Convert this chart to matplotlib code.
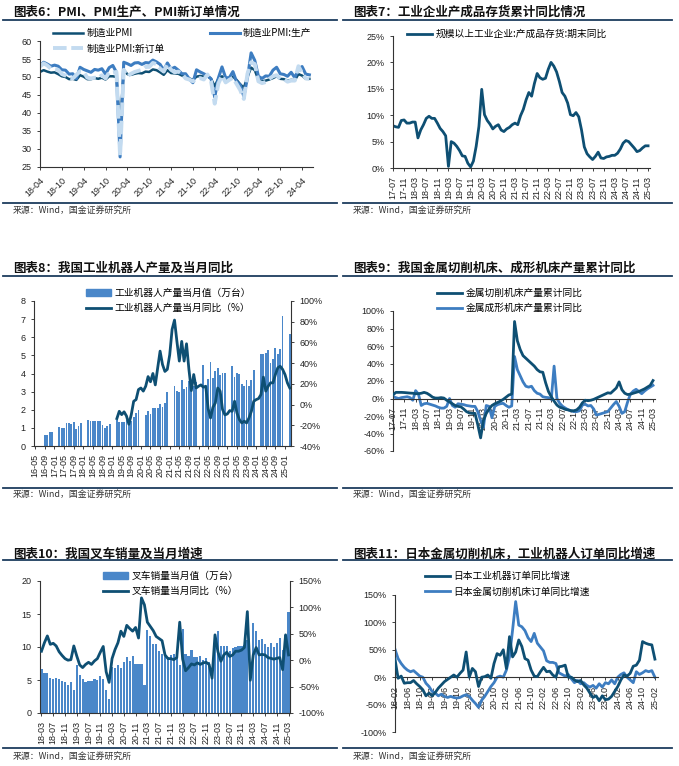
import matplotlib
matplotlib.use('Agg')
import matplotlib.pyplot as plt
import matplotlib.patches as mpatches
from matplotlib.lines import Line2D
from matplotlib.ticker import FuncFormatter
import numpy as np

plt.rcParams['font.family'] = ['Liberation Sans', 'Noto Sans CJK SC']

W, H = 679, 766
DARK = '#0E4F73'
MID = '#3D7DC1'
LIGHT = '#C3DBF0'
BAR = '#4A87C9'
RULE = '#1C3D5E'
CJK = ['Noto Sans CJK SC', 'DejaVu Sans']
SOURCE = '来源：Wind，国金证券研究所'

# ---- 图表6: PMI (monthly from 18-04)
pmi_start = '18-04'
pmi_ticks = ['18-04', '18-10', '19-04', '19-10', '20-04', '20-10', '21-04',
             '21-10', '22-04', '22-10', '23-04', '23-10', '24-04']
pmi = [51.4, 51.9, 51.5, 51.2, 51.3, 50.8, 50.2, 50.0, 49.4,
       49.5, 49.2, 50.5, 50.1, 49.4, 49.4, 49.7, 49.5, 49.8, 49.3, 50.2, 50.2,
       50.0, 35.7, 52.0, 50.8, 50.6, 50.9, 51.1, 51.0, 51.5, 51.4, 52.1, 51.9,
       51.3, 50.6, 51.9, 51.1, 51.0, 50.9, 50.4, 50.1, 49.6, 49.2, 50.1, 50.3,
       50.1, 50.2, 49.5, 47.4, 49.6, 50.2, 49.0, 49.4, 50.1, 49.2, 48.0, 47.0,
       50.1, 52.6, 51.9, 49.2, 48.8, 49.0, 49.3, 49.7, 50.2, 49.5, 49.4, 49.0,
       49.2, 49.1, 50.8, 50.4, 49.5, 49.5]
pmi_prod = [53.1, 54.1, 53.6, 53.0, 53.3, 53.0, 52.0, 51.9, 50.8,
            50.9, 49.5, 52.7, 52.1, 51.7, 51.3, 52.1, 51.9, 52.3, 50.8, 52.6, 53.2,
            51.3, 27.8, 54.1, 53.7, 53.2, 53.9, 54.0, 53.5, 54.0, 53.9, 54.7, 54.2,
            53.5, 51.9, 53.9, 52.2, 52.7, 51.9, 50.9, 50.9, 49.5, 48.4, 52.0, 51.4,
            50.9, 50.4, 49.5, 44.4, 49.7, 52.8, 49.8, 49.8, 51.5, 48.7, 47.8, 44.6,
            49.8, 56.7, 54.6, 50.2, 49.6, 50.3, 50.2, 51.9, 52.7, 50.9, 50.7, 50.2,
            51.3, 49.8, 52.2, 52.9, 50.8, 50.6]
pmi_new = [52.9, 53.8, 53.2, 52.3, 52.2, 52.0, 50.8, 50.4, 49.7,
           49.6, 50.6, 51.6, 51.4, 49.8, 49.6, 49.8, 49.7, 50.5, 49.6, 51.3, 51.2,
           51.4, 28.0, 52.0, 50.2, 50.9, 51.4, 51.7, 52.0, 52.8, 52.8, 53.9, 53.6,
           52.3, 51.5, 53.6, 52.0, 51.3, 51.5, 50.9, 49.6, 49.3, 48.8, 49.4, 49.7,
           49.3, 50.7, 48.8, 42.6, 48.2, 50.4, 48.5, 49.2, 49.8, 48.1, 46.4, 43.9,
           50.9, 54.1, 53.6, 48.8, 48.3, 48.6, 49.5, 50.2, 50.5, 49.5, 49.4, 48.7,
           49.0, 49.0, 53.0, 51.1, 49.6, 49.5]

# ---- 图表7: 产成品存货同比 (monthly from 17-07)
inv_start = '17-07'
m4_ticks = ['17-07', '17-11', '18-03', '18-07', '18-11', '19-03', '19-07', '19-11',
            '20-03', '20-07', '20-11', '21-03', '21-07', '21-11', '22-03', '22-07',
            '22-11', '23-03', '23-07', '23-11', '24-03', '24-07', '24-11', '25-03']
inventory = [8.0, 7.8, 7.7, 9.0, 9.1, 8.5, 8.5, 8.7, 8.7, 5.7, 7.2, 8.2, 9.4, 9.8,
             9.4, 9.4, 8.5, 7.5, 6.9, 6.1, 0.3, 5.0, 4.7, 4.1, 3.3, 2.3, 2.2, 0.9,
             0.2, 1.3, 4.1, 7.9, 14.9, 10.1, 9.0, 8.3, 7.4, 7.9, 8.2, 7.2, 6.9, 7.4,
             7.7, 8.2, 8.5, 8.2, 9.9, 11.1, 12.9, 14.3, 13.6, 16.0, 17.9, 17.1, 16.8,
             17.0, 18.7, 20.0, 19.3, 18.2, 16.4, 14.3, 13.6, 12.3, 10.1, 9.9, 10.5,
             9.7, 7.2, 4.0, 2.7, 2.1, 1.6, 2.2, 3.0, 1.9, 1.8, 2.1, 2.2, 2.4, 2.4,
             2.8, 3.6, 4.7, 5.2, 5.0, 4.4, 3.8, 3.1, 3.3, 3.8, 4.2, 4.2]

# ---- 图表8: 工业机器人 (axis from 16-05)
robot_start = '16-05'
robot_ticks = ['16-05', '16-09', '17-01', '17-05', '17-09', '18-01', '18-05', '18-09',
               '19-01', '19-05', '19-09', '20-01', '20-05', '20-09', '21-01', '21-05',
               '21-09', '22-01', '22-05', '22-09', '23-01', '23-05', '23-09', '24-01',
               '24-05', '24-09', '25-01']
robot_bar_months = (['16-09', '16-10', '16-11', '16-12']
                    + [f'{y}-{m:02d}' for y in range(17, 25) for m in range(3, 13)]
                    + ['25-03'])
robot_output = [0.58, 0.6, 0.75, 0.8,
                1.05, 1.0, 1.0, 1.25, 1.25, 1.2, 1.3, 0.95, 1.12, 1.27,
                1.42, 1.38, 1.37, 1.37, 1.38, 1.4, 1.15, 0.98, 1.1, 1.22,
                1.45, 1.3, 1.33, 1.35, 1.42, 1.5, 1.4, 1.6, 1.8, 2.0,
                1.73, 1.93, 1.78, 2.08, 2.12, 2.1, 2.3, 2.17, 2.35, 2.98,
                3.3, 3.05, 3.0, 3.65, 3.15, 3.25, 3.6, 3.1, 3.3, 3.55,
                4.45, 3.25, 3.7, 4.62, 3.75, 4.15, 4.3, 3.92, 4.02, 4.05,
                4.4, 3.82, 4.02, 4.0, 3.42, 3.33, 3.62, 3.32, 3.62, 4.2,
                5.08, 5.05, 5.15, 5.32, 4.58, 4.8, 5.42, 5.1, 5.35, 7.15,
                6.2]
robot_yoy_start = '19-03'
robot_yoy = [-13.5, -6.5, -9.7, -7, -11, -19, -9.7, 3.2, 4.8, 14.5,
             16, 13, 17.7, 27, 22, 30, 19, 35.5, 51.6, 38.7,
             32, 34, 48, 72.6, 81.6, 61, 42, 61, 42, 58.7,
             34, 13.5, 29, 16, 17.7, 19, 16.8, 17.7, -3.9, -12.9,
             -2.6, 1.6, 16, 13, -4.8, -10, -9, -5.8, -6.5, 3.2,
             -8, -14.5, -17.7, -16, -17.7, -13, -6.5, 3.2, 4.8, 5.8,
             9.7, 26.5, 13, 17.7, 21, 21, 29, 35.5, 37, 34,
             29, 21, 16]

# ---- 图表9: 机床产量累计同比 (monthly from 17-07)
tool_start = '17-07'
cutting = [4, 7, 7, 7, 6.8, 6.5, 6.2, 6, 5.5, 5.5,
           6, 7, 6, 4, 1.5, 0.5, 0.5, 1, 0.5, -2,
           -4, -6, -8, -9, -9.5, -12, -15, -16.5, -17, -17,
           -30, -45, -25, -17, -12, -8, -6, -4.5, -3, -1,
           1.5, 4, 5, 88, 66, 56, 49, 46, 43, 40,
           37, 33, 30.5, 30, 18, 8, 2, -3, -7.5, -10,
           -11, -12.5, -13, -14, -14, -13, -10, -5, -2, -2.5,
           -2, -1, 0.5, 2, 3.5, 5, 6.5, 6, 9, 12,
           19, 10, 6, 4.5, 5, 6, 7, 8, 9.5, 11,
           13, 15, 20.5]
forming = [2, 1, 0, 1, 1.5, 2, 1, -2, 9, 5,
           -8, -6, -5.5, -6.5, -7.5, -8.5, -10, -11, -11, -9,
           0, -8, -10, -6, -6.5, -7, -8, -8.5, -9, -9,
           -15, -25, -33, -8, -9, -22, -9, -7, -6, -5.5,
           -8, -10, -8.5, 48, 33, 26, 19, 14, 13, 14,
           9, 6, 5, 2, 1.3, 1, -1, 37, 0, -5.5,
           -9, -11, -13, -14, -15, -15, -14, -7.5, -6.5, -8.5,
           -8, -12, -19, -18, -17, -16, -15, -11, -7, -3.5,
           -9, -17, -15, -4, 5, 8.5, 10.5, 8, 5.5, 8.5,
           11, 13, 15]

# ---- 图表10: 叉车销量 (monthly from 18-03)
fork_start = '18-03'
fork_ticks = ['18-03', '18-07', '18-11', '19-03', '19-07', '19-11', '20-03', '20-07',
              '20-11', '21-03', '21-07', '21-11', '22-03', '22-07', '22-11', '23-03',
              '23-07', '23-11', '24-03', '24-07', '24-11', '25-03']
fork_sales = [6.6, 6.0, 6.0, 5.25, 5.15, 5.25, 5.15, 4.85, 4.75, 4.25,
              4.65, 3.5, 7.3, 5.75, 5.1, 4.75, 4.8, 4.8, 5.1, 5.05, 5.6, 5.2,
              3.5, 2.07, 7.0, 6.77, 7.27, 6.77, 7.67, 8.48, 7.93, 8.7, 7.5, 7.5,
              7.5, 4.25, 12.6, 11.6, 10.4, 10.4, 9.45, 9.0, 8.9, 8.5, 8.8, 8.9,
              8.4, 7.3, 12.7, 9.0, 8.65, 9.55, 8.55, 8.55, 8.7, 8.05, 8.3, 7.8,
              6.8, 11.8, 12.4, 10.1, 10.1, 10.15, 9.4, 9.8, 10.0, 10.1, 10.1, 10.3,
              11.0, 7.5, 13.7, 12.4, 11.0, 11.15, 10.4, 10.05, 10.65, 10.05, 10.65, 11.3,
              9.55, 11.8, 15.25]
fork_yoy = [17, 33, 46, 30, 32, 27, 16, 9, 3, 0,
            1, 27, 8, -9, -14, -8, -4, -8, -1.5, 3, 15, 26,
            -22, -42, 3, 20, 33, 55, 45, 66, 60, 55, 62, 42,
            118, 105, 72, 64, 56, 45, 41, 37, 10, 3, 3, 1,
            5, 72, 2, -20, -14, -7, -9, -5, -8, -5, -4, -8,
            -34, 48, 16, -2, 10, 15, 7, 10, 17, 17, 19, 24,
            92, -38, 10, 24, 10, 11, 10, 5, 3.5, 2, 3.5, 5,
            -18, 48, 10]

# ---- 图表11: 日本订单同比 (monthly from 18-02)
jp_start = '18-02'
jp_ticks = ['18-02', '18-06', '18-10', '19-02', '19-06', '19-10', '20-02', '20-06',
            '20-10', '21-02', '21-06', '21-10', '22-02', '22-06', '22-10', '23-02',
            '23-06', '23-10', '24-02', '24-06', '24-10', '25-02']
jp_robot = [33, -2, 2, -11, -10, -10, -6, -12, -17, -23,
            -34, -29, -34, -28, -20, -14, -8, -4, 0, 4,
            0, 7, 13, 46, 0, 16, 10, -17, 0, 1,
            4, -2, 25, 43, 40, 50, 16, 74, 37, 46,
            68, 56, 34, 31, 13, 2, 1, 10, 18, 10,
            11, 4, 0, 19, 20, 22, 0, 0, -5, -8,
            -6, -14, -20, -29, -37, -34, -43, -34, -41, -40,
            -35, -26, -17, -5, 4, 2, 7, 20, 22, 31,
            65, 62, 60, 59, 33]
jp_tool = [51, 34, 25, 18, 13, 10, 12, 7, 2, 0,
           -11, -17, -26, -29, -34, -31, -35, -37, -35, -37,
           -38, -37, -34, -32, -35, -42, -48, -55, -42, -35,
           -26, -17, -10, 0, 2, 0, 13, 37, 86, 138,
           95, 92, 85, 72, 65, 80, 62, 55, 48, 30,
           27, 27, 25, 8, 5, 2, 5, -3, -10, -6,
           -12, -10, -15, -18, -15, -20, -12, -18, -10, -12,
           -5, -12, 0, 5, 8, 0, -5, -10, 10, 5,
           8, 12, 10, 12, 0]


def midx(label, start):
    y, m = map(int, label.split('-'))
    y0, m0 = map(int, start.split('-'))
    return (y - y0) * 12 + (m - m0)


pct = FuncFormatter(lambda v, p: f'{v:.0f}%')

fig = plt.figure(figsize=(W / 100, H / 100), dpi=100)


def make_ax(x0, y0, x1, y1):
    ax = fig.add_axes([x0 / W, 1 - y1 / H, (x1 - x0) / W, (y1 - y0) / H])
    for s in ['top', 'right']:
        ax.spines[s].set_visible(False)
    for s in ['left', 'bottom']:
        ax.spines[s].set_color('#333333')
        ax.spines[s].set_linewidth(0.8)
    ax.tick_params(labelsize=6.5, colors='#222222', length=2.5, width=0.6)
    ax.set_facecolor('none')
    return ax


def right_axis(ax):
    ax2 = ax.twinx()
    for s in ['top', 'left', 'bottom']:
        ax2.spines[s].set_visible(False)
    ax2.spines['right'].set_color('#333333')
    ax2.spines['right'].set_linewidth(0.8)
    ax2.tick_params(labelsize=6.5, colors='#222222', length=2.5, width=0.6)
    ax2.yaxis.set_major_formatter(pct)
    return ax2


def frame(x0, x1, y_title, y_top, y_bot, y_src, title):
    fig.text((x0 + 10) / W, 1 - y_title / H, title, fontsize=9,
             fontweight='bold', family=CJK, va='center', color='#111111')
    for yy in (y_top, y_bot):
        fig.add_artist(Line2D([x0 / W, x1 / W], [1 - yy / H] * 2, color=RULE, lw=1.3))
    fig.text((x0 + 10) / W, 1 - y_src / H, SOURCE, fontsize=6.4,
             family=CJK, va='center', color='#333333')


def legend(ax, handles, labels, x, y, ncol=1, colsp=2.0, hl=2.6):
    ax.legend(handles, labels, loc='upper left', bbox_to_anchor=(x / W, 1 - y / H),
              bbox_transform=fig.transFigure, frameon=False, ncol=ncol,
              prop={'family': CJK, 'size': 7}, handlelength=hl, handletextpad=0.35,
              labelspacing=0.55, borderpad=0, borderaxespad=0, columnspacing=colsp)


def month_axis(ax, ticks, start, rot=90):
    ax.set_xticks([midx(t, start) for t in ticks])
    if rot == 90:
        ax.set_xticklabels(ticks, rotation=90)
    else:
        ax.set_xticklabels(ticks, rotation=rot, ha='right', rotation_mode='anchor')


# frames
frame(3, 337, 12, 20, 203, 210, '图表6：PMI、PMI生产、PMI新订单情况')
frame(343, 672, 12, 20, 203, 210, '图表7：工业企业产成品存货累计同比情况')
frame(3, 337, 268, 276, 488, 494, '图表8：我国工业机器人产量及当月同比')
frame(343, 672, 268, 276, 488, 494, '图表9：我国金属切削机床、成形机床产量累计同比')
frame(3, 337, 554, 560, 748, 756, '图表10：我国叉车销量及当月增速')
frame(343, 672, 554, 560, 748, 756, '图表11：日本金属切削机床，工业机器人订单同比增速')

# ---- panel 6
ax = make_ax(40, 41, 313, 167)
x = np.arange(len(pmi))
l1, = ax.plot(x, pmi, color=DARK, lw=1.8)
l2, = ax.plot(x, pmi_prod, color=MID, lw=2.2)
l3, = ax.plot(x, pmi_new, color=LIGHT, lw=2.8, dashes=(3.5, 1.2))
ax.set_ylim(25, 60)
ax.set_yticks(range(25, 61, 5))
ax.set_xlim(0, 75)
month_axis(ax, pmi_ticks, pmi_start, rot=45)
legend(ax, [l1, l3, l2], ['制造业PMI', '制造业PMI:新订单', '制造业PMI:生产'],
       53, 28, ncol=2, colsp=4.6, hl=3.1)

# ---- panel 7
ax = make_ax(393, 36, 650, 168)
ln, = ax.plot(np.arange(len(inventory)), inventory, color=DARK, lw=2.0)
ax.set_ylim(0, 25)
ax.set_yticks(range(0, 26, 5))
ax.yaxis.set_major_formatter(pct)
ax.set_xlim(0, 92.7)
month_axis(ax, m4_ticks, inv_start)
legend(ax, [ln], ['规模以上工业企业:产成品存货:期末同比'], 407, 29)

# ---- panel 8
ax = make_ax(34, 301, 291, 446)
ax.bar([midx(m, robot_start) for m in robot_bar_months], robot_output,
       width=0.75, color=BAR, zorder=2)
ax.set_ylim(0, 8)
ax.set_yticks(range(0, 9))
ax.set_xlim(-0.5, 106.5)
month_axis(ax, robot_ticks, robot_start)
ax2 = right_axis(ax)
x0 = midx(robot_yoy_start, robot_start)
ln, = ax2.plot(np.arange(x0, x0 + len(robot_yoy)), robot_yoy, color=DARK, lw=2.0)
ax2.set_ylim(-40, 100)
ax2.set_yticks(range(-40, 101, 20))
legend(ax2, [mpatches.Patch(color=BAR), ln],
       ['工业机器人产量当月值（万台）', '工业机器人产量当月同比（%）'], 86, 288)

# ---- panel 9
ax = make_ax(393, 311, 655, 451)
x = np.arange(len(cutting))
la, = ax.plot(x, cutting, color=DARK, lw=2.0, zorder=3)
lb, = ax.plot(x, forming, color=MID, lw=2.0, zorder=2)
ax.set_ylim(-60, 100)
ax.set_yticks(range(-60, 101, 20))
ax.yaxis.set_major_formatter(pct)
ax.set_xlim(0, 92.7)
ax.spines['bottom'].set_position(('data', 0))
month_axis(ax, m4_ticks, tool_start)
legend(ax, [la, lb], ['金属切削机床产量累计同比', '金属成形机床产量累计同比'], 437, 288)

# ---- panel 10
ax = make_ax(40, 581, 290, 713)
x = np.arange(len(fork_sales))
ax.bar(x, fork_sales, width=0.75, color=BAR, zorder=2)
ax.set_ylim(0, 20)
ax.set_yticks(range(0, 21, 5))
ax.set_xlim(-0.5, 84.5)
month_axis(ax, fork_ticks, fork_start)
ax2 = right_axis(ax)
ln, = ax2.plot(x, fork_yoy, color=DARK, lw=2.0)
ax2.set_ylim(-100, 150)
ax2.set_yticks(range(-100, 151, 50))
legend(ax2, [mpatches.Patch(color=BAR), ln],
       ['叉车销量当月值（万台）', '叉车销量当月同比（%）'], 103, 571)

# ---- panel 11
ax = make_ax(395, 595, 658, 732)
x = np.arange(len(jp_robot))
la, = ax.plot(x, jp_robot, color=DARK, lw=2.0, zorder=3)
lb, = ax.plot(x, jp_tool, color=MID, lw=2.0, zorder=2)
ax.set_ylim(-100, 150)
ax.set_yticks(range(-100, 151, 50))
ax.yaxis.set_major_formatter(pct)
ax.set_xlim(0, 85)
ax.spines['bottom'].set_position(('data', 0))
month_axis(ax, jp_ticks, jp_start)
legend(ax, [la, lb], ['日本工业机器订单同比增速', '日本金属切削机床订单同比增速'], 425, 571)

fig.savefig('out.png', dpi=100)
